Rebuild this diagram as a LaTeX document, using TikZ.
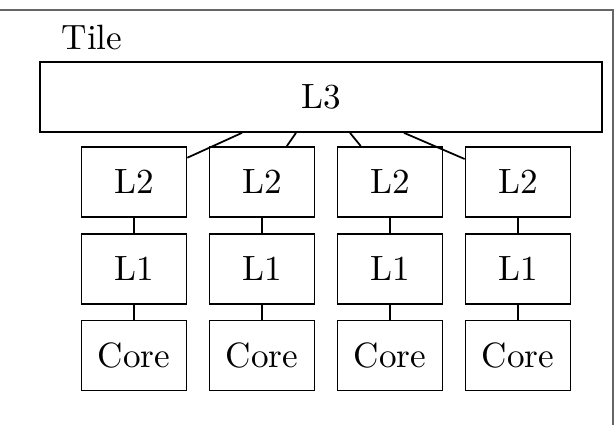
\documentclass[tikz,border=0pt]{standalone}
\usepackage{tikz}
\usetikzlibrary{positioning}
\begin{document}
\begin{tikzpicture}[
  box/.style={draw, line width=0.5pt, minimum width=1.05cm, minimum height=0.70cm},
  link/.style={line width=0.5pt}
]
\clip (0,0) rectangle (6.15,4.25);
% --- cornice del tile ---
\draw[black!60, line width=0.5pt] (-0.2,-0.2) rectangle (6.13,4.15);
\node (tile) at (0.92,3.87) {Tile};
\node[box, minimum width=5.62cm] (l3) at (3.21,3.28) {L3};
% --- colonne L2 / L1 / Core ---
\foreach \i/\x in {1/1.34,2/2.62,3/3.90,4/5.18} {
  \node[box] (l2-\i) at (\x,2.43) {L2};
  \node[box, below=0.15cm of l2-\i] (l1-\i) {L1};
  \node[box, below=0.15cm of l1-\i] (core-\i) {Core};
  \draw[link] (l2-\i) -- (l1-\i);
  \draw[link] (l1-\i) -- (core-\i);
}
\foreach \i/\dx in {1/-0.79,2/-0.25,3/0.29,4/0.83}
  \draw[link] ([xshift=\dx cm]l3.south) -- (l2-\i);
\end{tikzpicture}
\end{document}
